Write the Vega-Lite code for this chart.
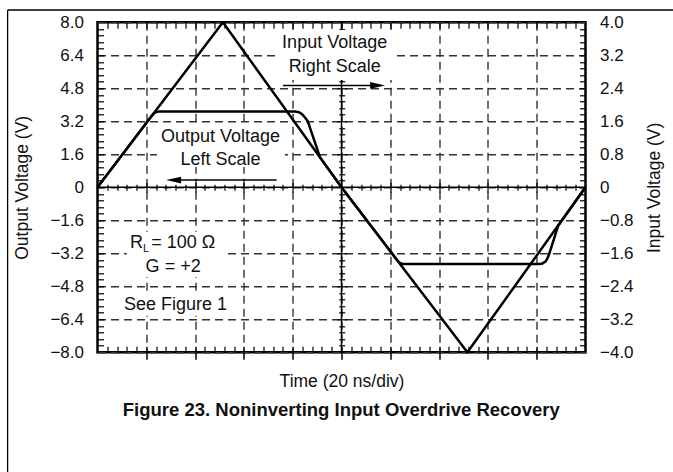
{
  "$schema": "https://vega.github.io/schema/vega-lite/v6.json",
  "width": 488,
  "height": 330,
  "autosize": {"type": "none"},
  "padding": {"left": 97.5, "top": 22.3, "right": 87.5, "bottom": 119.7},
  "background": "white",
  "config": {
    "view": {"stroke": "#000", "strokeWidth": 2.5},
    "font": "Liberation Sans",
    "axis": {"labelFont": "Liberation Sans", "titleFont": "Liberation Sans", "labelColor": "#111", "titleColor": "#111", "titleFontWeight": "normal", "tickColor": "#000", "tickWidth": 1.2, "domain": false}
  },
  "datasets": {
    "output": [
      {"t": 0, "v": 0}, {"t": 1.14, "v": 3.55}, {"t": 1.19, "v": 3.64}, {"t": 1.25, "v": 3.67},
      {"t": 4.06, "v": 3.67}, {"t": 4.13, "v": 3.64}, {"t": 4.19, "v": 3.55}, {"t": 4.24, "v": 3.42},
      {"t": 4.31, "v": 3.2}, {"t": 4.56, "v": 1.45}, {"t": 5.0, "v": 0},
      {"t": 6.13, "v": -3.5}, {"t": 6.18, "v": -3.64}, {"t": 6.25, "v": -3.72},
      {"t": 9.05, "v": -3.72}, {"t": 9.12, "v": -3.69}, {"t": 9.18, "v": -3.6}, {"t": 9.22, "v": -3.45},
      {"t": 9.26, "v": -3.2}, {"t": 9.44, "v": -1.86}, {"t": 10, "v": 0}
    ],
    "input": [
      {"t": 0, "v": 0}, {"t": 2.57, "v": 4.0}, {"t": 5.0, "v": 0}, {"t": 7.58, "v": -4.0}, {"t": 10, "v": 0}
    ],
    "boxes": [
      {"t1": 3.72, "t2": 6.05, "v1": 7.63, "v2": 5.2},
      {"t1": 1.22, "t2": 3.84, "v1": 3.07, "v2": 0.98},
      {"t1": 0.6, "t2": 2.59, "v1": -2.16, "v2": -4.35},
      {"t1": 0.5, "t2": 2.71, "v1": -5.08, "v2": -6.23}
    ],
    "notes": [
      {"t": 4.86, "v": 7.0, "label": "Input Voltage"},
      {"t": 4.86, "v": 5.85, "label": "Right Scale"},
      {"t": 2.52, "v": 2.45, "label": "Output Voltage"},
      {"t": 2.52, "v": 1.32, "label": "Left Scale"},
      {"t": 1.55, "v": -3.85, "label": "G = +2"},
      {"t": 1.6, "v": -5.71, "label": "See Figure 1"}
    ],
    "rlnote": [
      {"t": 0.665, "v": -2.71, "label": "R"},
      {"t": 1.1, "v": -2.71, "label": "= 100 Ω"}
    ],
    "arrows": [
      {"t1": 3.8, "t2": 5.75, "v": 4.94},
      {"t1": 1.5, "t2": 3.67, "v": 0.35}
    ],
    "heads": [
      {"t": 5.74, "v": 4.94, "dir": "right"},
      {"t": 1.56, "v": 0.35, "dir": "left"}
    ]
  },
  "resolve": {"scale": {"y": "independent"}, "axis": {"x": "independent", "y": "independent"}},
  "layer": [
    {
      "data": {"name": "output"},
      "mark": {"type": "line", "color": "#000", "strokeWidth": 2.5, "strokeJoin": "round"},
      "encoding": {
        "x": {"field": "t", "type": "quantitative", "scale": {"domain": [0, 10], "nice": false, "zero": false},
          "axis": {"orient": "bottom", "title": "Time (20 ns/div)", "titleFontSize": 17.5, "titleX": 244, "titleY": 29, "titleBaseline": "middle", "titleAlign": "center", "labels": false, "ticks": true, "tickSize": 7, "tickWidth": 1.5, "values": [1, 2, 3, 4, 5, 6, 7, 8, 9], "grid": true, "gridDash": [8, 5], "gridColor": "#333", "gridWidth": 1.4}},
        "y": {"field": "v", "type": "quantitative", "scale": {"domain": [-8, 8], "nice": false, "zero": false},
          "axis": {"orient": "left", "title": "Output Voltage (V)", "titleFontSize": 17.5, "titleX": -75, "titleY": 165, "titleAngle": -90, "titleBaseline": "middle", "titleAlign": "center", "ticks": false, "labelPadding": 14, "labelFontSize": 17, "values": [-8, -6.4, -4.8, -3.2, -1.6, 0, 1.6, 3.2, 4.8, 6.4, 8], "labelExpr": "datum.value == 0 ? '0' : replace(format(datum.value, '.1f'), '-', '–')", "grid": true, "gridDash": [8, 5], "gridColor": "#333", "gridWidth": 1.4}}
      }
    },
    {
      "data": {"name": "input"},
      "mark": {"type": "line", "color": "#000", "strokeWidth": 2.5, "strokeJoin": "round"},
      "encoding": {
        "x": {"field": "t", "type": "quantitative", "scale": {"domain": [0, 10], "nice": false, "zero": false},
          "axis": {"orient": "top", "title": null, "labels": false, "grid": false, "ticks": true, "offset": -6, "tickSize": 6, "values": [0.2,0.4,0.6,0.8,1,1.2,1.4,1.6,1.8,2,2.2,2.4,2.6,2.8,3,3.2,3.4,3.6,3.8,4,4.2,4.4,4.6,4.8,5,5.2,5.4,5.6,5.8,6,6.2,6.4,6.6,6.8,7,7.2,7.4,7.6,7.8,8,8.2,8.4,8.6,8.8,9,9.2,9.4,9.6,9.8]}},
        "y": {"field": "v", "type": "quantitative", "scale": {"domain": [-4, 4], "nice": false, "zero": false},
          "axis": {"orient": "right", "title": "Input Voltage (V)", "titleFontSize": 17.5, "titleX": 68.5, "titleY": 165, "titleAngle": -90, "titleBaseline": "middle", "titleAlign": "center", "ticks": false, "grid": false, "labelPadding": 14, "labelFontSize": 17, "values": [-4, -3.2, -2.4, -1.6, -0.8, 0, 0.8, 1.6, 2.4, 3.2, 4], "labelExpr": "datum.value == 0 ? '0' : replace(format(datum.value, '.1f'), '-', '–')"}}
      }
    },
    {
      "data": {"values": [{}]},
      "mark": {"type": "rule", "color": "#000", "strokeWidth": 1.5},
      "encoding": {
        "x": {"datum": 0, "scale": {"domain": [0, 10], "nice": false, "zero": false},
          "axis": {"orient": "bottom", "title": null, "labels": false, "grid": false, "ticks": true, "offset": -168, "tickSize": 6, "values": [0.2,0.4,0.6,0.8,1.2,1.4,1.6,1.8,2.2,2.4,2.6,2.8,3.2,3.4,3.6,3.8,4.2,4.4,4.6,4.8,5.2,5.4,5.6,5.8,6.2,6.4,6.6,6.8,7.2,7.4,7.6,7.8,8.2,8.4,8.6,8.8,9.2,9.4,9.6,9.8]}},
        "x2": {"datum": 10},
        "y": {"datum": 0, "scale": {"domain": [-8, 8], "nice": false, "zero": false},
          "axis": {"orient": "left", "title": null, "labels": false, "grid": false, "ticks": true, "offset": -6, "tickSize": 6, "values": [-7.68,-7.36,-7.04,-6.72,-6.4,-6.08,-5.76,-5.44,-5.12,-4.8,-4.48,-4.16,-3.84,-3.52,-3.2,-2.88,-2.56,-2.24,-1.92,-1.6,-1.28,-0.96,-0.64,-0.32,0,0.32,0.64,0.96,1.28,1.6,1.92,2.24,2.56,2.88,3.2,3.52,3.84,4.16,4.48,4.8,5.12,5.44,5.76,6.08,6.4,6.72,7.04,7.36,7.68]}}
      }
    },
    {
      "data": {"values": [{}]},
      "mark": {"type": "rule", "color": "#000", "strokeWidth": 1.5},
      "encoding": {
        "x": {"datum": 5, "scale": {"domain": [0, 10], "nice": false, "zero": false},
          "axis": {"orient": "bottom", "title": null, "labels": false, "grid": false, "ticks": true, "offset": -6, "tickSize": 6, "values": [0.2,0.4,0.6,0.8,1,1.2,1.4,1.6,1.8,2,2.2,2.4,2.6,2.8,3,3.2,3.4,3.6,3.8,4,4.2,4.4,4.6,4.8,5,5.2,5.4,5.6,5.8,6,6.2,6.4,6.6,6.8,7,7.2,7.4,7.6,7.8,8,8.2,8.4,8.6,8.8,9,9.2,9.4,9.6,9.8]}},
        "y": {"datum": -8, "scale": {"domain": [-8, 8], "nice": false, "zero": false},
          "axis": {"orient": "left", "title": null, "labels": false, "grid": false, "ticks": true, "offset": -247.25, "tickSize": 6, "values": [-7.68,-7.36,-7.04,-6.72,-6.08,-5.76,-5.44,-5.12,-4.48,-4.16,-3.84,-3.52,-2.88,-2.56,-2.24,-1.92,-1.28,-0.96,-0.64,-0.32,0.32,0.64,0.96,1.28,1.92,2.24,2.56,2.88,3.52,3.84,4.16,4.48,5.12,5.44,5.76,6.08,6.72,7.04,7.36,7.68]}},
        "y2": {"datum": 8}
      }
    },
    {
      "data": {"values": [{}]},
      "mark": {"type": "rule", "color": "#000", "strokeWidth": 1.3},
      "encoding": {
        "x": {"datum": -1.842, "scale": {"domain": [0, 10], "nice": false, "zero": false},
          "axis": {"orient": "bottom", "title": null, "labels": false, "grid": false, "ticks": true, "offset": -170, "tickSize": 10, "values": [1, 2, 3, 4, 6, 7, 8, 9]}},
        "x2": {"datum": 11.8},
        "y": {"datum": 8.596, "scale": {"domain": [-8, 8], "nice": false, "zero": false},
          "axis": {"orient": "right", "title": null, "labels": false, "grid": false, "ticks": true, "offset": -6, "tickSize": 6, "values": [-7.68,-7.36,-7.04,-6.72,-6.4,-6.08,-5.76,-5.44,-5.12,-4.8,-4.48,-4.16,-3.84,-3.52,-3.2,-2.88,-2.56,-2.24,-1.92,-1.6,-1.28,-0.96,-0.64,-0.32,0,0.32,0.64,0.96,1.28,1.6,1.92,2.24,2.56,2.88,3.2,3.52,3.84,4.16,4.48,4.8,5.12,5.44,5.76,6.08,6.4,6.72,7.04,7.36,7.68]}}
      }
    },
    {
      "data": {"values": [{}]},
      "mark": {"type": "rule", "color": "#000", "strokeWidth": 1.3},
      "encoding": {
        "x": {"datum": -1.842, "scale": {"domain": [0, 10], "nice": false, "zero": false}, "axis": null},
        "y": {"datum": 8.596, "scale": {"domain": [-8, 8], "nice": false, "zero": false},
          "axis": {"orient": "left", "title": null, "labels": false, "grid": false, "ticks": true, "offset": -249.25, "tickSize": 10, "values": [-6.4, -4.8, -3.2, -1.6, 1.6, 3.2, 4.8, 6.4]}},
        "y2": {"datum": -13.8}
      }
    },
    {
      "data": {"name": "boxes"},
      "mark": {"type": "rect", "color": "white", "opacity": 1},
      "encoding": {
        "x": {"field": "t1", "type": "quantitative", "scale": {"domain": [0, 10], "nice": false, "zero": false}, "axis": null},
        "x2": {"field": "t2"},
        "y": {"field": "v1", "type": "quantitative", "scale": {"domain": [-8, 8], "nice": false, "zero": false}, "axis": null},
        "y2": {"field": "v2"}
      }
    },
    {
      "data": {"name": "notes"},
      "mark": {"type": "text", "font": "Liberation Sans", "fontSize": 18, "color": "#111", "align": "center", "baseline": "middle"},
      "encoding": {
        "x": {"field": "t", "type": "quantitative", "scale": {"domain": [0, 10], "nice": false, "zero": false}, "axis": null},
        "y": {"field": "v", "type": "quantitative", "scale": {"domain": [-8, 8], "nice": false, "zero": false}, "axis": null},
        "text": {"field": "label"}
      }
    },
    {
      "data": {"name": "rlnote"},
      "mark": {"type": "text", "font": "Liberation Sans", "fontSize": 18, "color": "#111", "align": "left", "baseline": "middle"},
      "encoding": {
        "x": {"field": "t", "type": "quantitative", "scale": {"domain": [0, 10], "nice": false, "zero": false}, "axis": null},
        "y": {"field": "v", "type": "quantitative", "scale": {"domain": [-8, 8], "nice": false, "zero": false}, "axis": null},
        "text": {"field": "label"}
      }
    },
    {
      "data": {"values": [{}]},
      "mark": {"type": "text", "font": "Liberation Sans", "fontSize": 11, "color": "#111", "align": "left", "baseline": "middle", "text": "L"},
      "encoding": {
        "x": {"datum": 0.93, "scale": {"domain": [0, 10], "nice": false, "zero": false}, "axis": null},
        "y": {"datum": -2.98, "scale": {"domain": [-8, 8], "nice": false, "zero": false}, "axis": null}
      }
    },
    {
      "data": {"values": [{}]},
      "mark": {"type": "text", "font": "Liberation Sans", "fontSize": 18.5, "fontWeight": "bold", "color": "#111", "align": "center", "baseline": "middle", "text": "Figure 23. Noninverting Input Overdrive Recovery"},
      "encoding": {
        "x": {"datum": 4.995, "scale": {"domain": [0, 10], "nice": false, "zero": false}, "axis": null},
        "y": {"datum": -10.8, "scale": {"domain": [-8, 8], "nice": false, "zero": false}, "axis": null}
      }
    },
    {
      "data": {"name": "arrows"},
      "mark": {"type": "rule", "color": "#000", "strokeWidth": 1.5},
      "encoding": {
        "x": {"field": "t1", "type": "quantitative", "scale": {"domain": [0, 10], "nice": false, "zero": false}, "axis": null},
        "x2": {"field": "t2"},
        "y": {"field": "v", "type": "quantitative", "scale": {"domain": [-8, 8], "nice": false, "zero": false}, "axis": null}
      }
    },
    {
      "data": {"name": "heads"},
      "mark": {"type": "point", "filled": true, "color": "#000", "size": 225, "opacity": 1},
      "encoding": {
        "x": {"field": "t", "type": "quantitative", "scale": {"domain": [0, 10], "nice": false, "zero": false}, "axis": null},
        "y": {"field": "v", "type": "quantitative", "scale": {"domain": [-8, 8], "nice": false, "zero": false}, "axis": null},
        "shape": {"field": "dir", "type": "nominal", "scale": {"domain": ["right", "left"], "range": ["M1,0L-1,-0.45L-1,0.45Z", "M-1,0L1,-0.45L1,0.45Z"]}, "legend": null}
      }
    }
  ]
}
